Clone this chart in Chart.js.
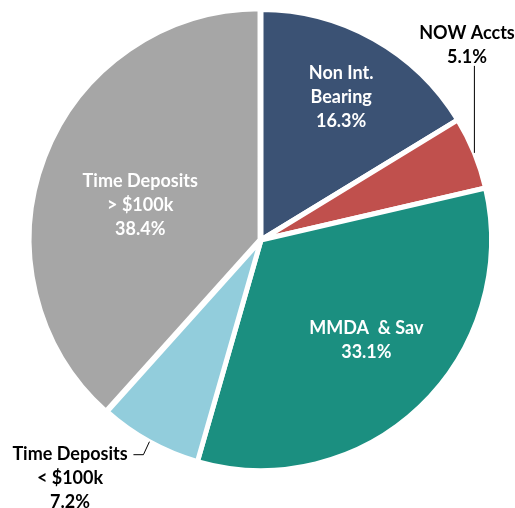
<!DOCTYPE html>
<html>
<head>
<meta charset="utf-8">
<script src="https://cdn.jsdelivr.net/npm/chart.js@4.4.1/dist/chart.umd.min.js"></script>
<style>
  html, body { margin: 0; padding: 0; background: #fff; }
  #wrap { width: 515px; height: 508px; position: relative; }
</style>
</head>
<body>
<div id="wrap"><canvas id="depositChart"></canvas></div>
<script>
// deposit mix, clockwise from 12 o'clock
var categories = ["Non Int. Bearing", "NOW Accts", "MMDA  & Sav", "Time Deposits < $100k", "Time Deposits > $100k"];
var shares = [16.3, 5.1, 33.1, 7.2, 38.4];
var labelLines = [
    ["Non Int.", "Bearing"],
    ["NOW Accts"],
    ["MMDA  & Sav"],
    ["Time Deposits", "< $100k"],
    ["Time Deposits", "> $100k"]
];

var sliceColors = ["#3B5274", "#C0504D", "#1B8F80", "#92CDDC", "#A6A6A6"];
var textColors = ["#ffffff", "#000000", "#ffffff", "#000000", "#ffffff"];

// where each label sits: inside at a fraction of the radius (da = angle nudge in degrees),
// or outside with a leader line from the rim
var placement = [
    { inside: true, r: 0.71, da: 0 },
    { inside: false, textX: 467, textY: 33, lead: [[0, 0], [0, -87]] },
    { inside: true, r: 0.63, da: -3 },
    { inside: false, textX: 70, textY: 454, lead: [[0, 0], [-6, 13], [-16, 13]] },
    { inside: true, r: 0.545, da: -5 }
];

var lineH = 24;
var fontSpec = "bold 18px Lato";

var labelPlugin = {
    id: "sliceLabels",
    afterDatasetsDraw: function (chart) {
        var ctx = chart.ctx;
        var arcs = chart.getDatasetMeta(0).data;
        ctx.save();
        ctx.font = fontSpec;
        ctx.textAlign = "center";
        ctx.textBaseline = "middle";
        arcs.forEach(function (arc, i) {
            var p = arc.getProps(["x", "y", "startAngle", "endAngle", "outerRadius"], true);
            var mid = (p.startAngle + p.endAngle) / 2;
            var lines = labelLines[i].concat([shares[i].toFixed(1) + "%"]);
            var pl = placement[i];
            var cx, cy;
            if (pl.inside) {
                var a = mid + pl.da * Math.PI / 180;
                cx = p.x + Math.cos(a) * p.outerRadius * pl.r;
                cy = p.y + Math.sin(a) * p.outerRadius * pl.r;
                cy -= (lines.length - 1) * lineH / 2;
            } else {
                var ex = p.x + Math.cos(mid) * p.outerRadius;
                var ey = p.y + Math.sin(mid) * p.outerRadius;
                ctx.beginPath();
                ctx.strokeStyle = "#000";
                ctx.lineWidth = 1;
                pl.lead.forEach(function (d, k) {
                    if (k === 0) ctx.moveTo(ex + d[0], ey + d[1]);
                    else ctx.lineTo(ex + d[0], ey + d[1]);
                });
                ctx.stroke();
                cx = pl.textX;
                cy = pl.textY;
            }
            ctx.fillStyle = textColors[i];
            lines.forEach(function (t, k) {
                ctx.fillText(t, cx, cy + k * lineH);
            });
        });
        ctx.restore();
    }
};

var ctx = document.getElementById("depositChart").getContext("2d");
new Chart(ctx, {
    type: "pie",
    data: {
        labels: categories,
        datasets: [{
            data: shares,
            backgroundColor: sliceColors,
            borderColor: "#ffffff",
            borderWidth: 5,
            offset: [0, 0, 0, 0, 4]
        }]
    },
    options: {
        responsive: true,
        maintainAspectRatio: false,
        animation: false,
        layout: { padding: { left: 26, top: 5, right: 19, bottom: 33 } },
        plugins: {
            legend: { display: false },
            tooltip: { enabled: false }
        }
    },
    plugins: [labelPlugin]
});
</script>
</body>
</html>
